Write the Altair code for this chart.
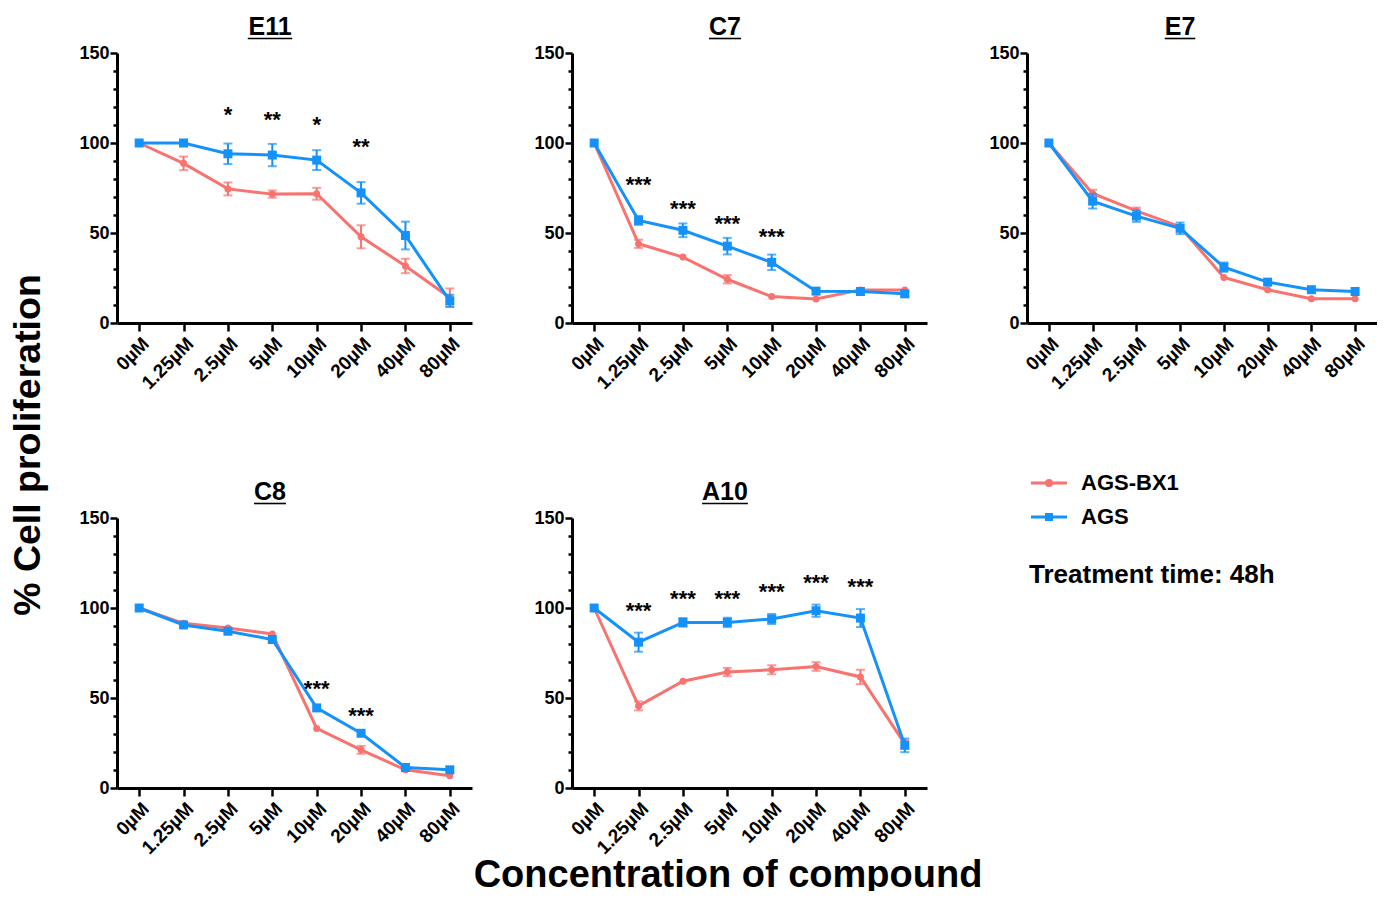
import altair as alt
import pandas as pd

FONT = "Liberation Sans"
CONC = ["0µM", "1.25µM", "2.5µM", "5µM", "10µM", "20µM", "40µM", "80µM"]
SERIES = ["AGS-BX1", "AGS"]
COLORS = ["#F8736F", "#1592FA"]
SHAPES = ["circle", "square"]
PANELS = ["E11", "C7", "E7", "C8", "A10"]

# mean values and SEM (0 = error bar hidden behind marker)
E11_BX1 = [100, 88.7, 74.5, 71.6, 71.8, 47.9, 31.7, 14.2]
E11_BX1_ERR = [0, 3.8, 3.6, 2.0, 3.3, 6.4, 4.0, 5.0]
E11_AGS = [100, 100, 94.0, 93.3, 90.5, 72.3, 48.6, 12.3]
E11_AGS_ERR = [0, 1.7, 5.7, 6.2, 5.5, 6.0, 7.7, 3.4]
E11_SIG = ["", "", "*", "**", "*", "**", "", ""]
E11_SIG_Y = [0, 0, 117.6, 115, 112, 100, 0, 0]

C7_BX1 = [100, 44, 36.6, 24.3, 14.7, 13.4, 18.4, 18.4]
C7_BX1_ERR = [0, 2.3, 0, 2.3, 0, 0, 0, 0]
C7_AGS = [100, 57, 51.5, 42.7, 33.7, 17.7, 17.5, 16.2]
C7_AGS_ERR = [0, 2.5, 3.8, 4.6, 4.3, 0, 0, 1.5]
C7_SIG = ["", "***", "***", "***", "***", "", "", ""]
C7_SIG_Y = [0, 79, 65.3, 57.4, 50.2, 0, 0, 0]

E7_BX1 = [100, 72, 62.3, 53.5, 25.3, 18.5, 13.5, 13.5]
E7_BX1_ERR = [0, 2.0, 1.8, 0, 0, 0, 0, 0]
E7_AGS = [100, 67.7, 59.4, 52.6, 31, 22.7, 18.5, 17.5]
E7_AGS_ERR = [0, 4.1, 3.2, 3.2, 2.6, 0, 0, 0]
E7_SIG = ["", "", "", "", "", "", "", ""]
E7_SIG_Y = [0, 0, 0, 0, 0, 0, 0, 0]

C8_BX1 = [100, 91.5, 88.9, 85.6, 33.1, 21.2, 10.1, 6.8]
C8_BX1_ERR = [0, 0, 0, 0, 0, 2.2, 0, 0]
C8_AGS = [100, 90.6, 87.1, 82.5, 44.5, 30.4, 11.4, 10.1]
C8_AGS_ERR = [0, 0, 0, 0, 0, 0, 0, 0]
C8_SIG = ["", "", "", "", "***", "***", "", ""]
C8_SIG_Y = [0, 0, 0, 0, 57.4, 42.3, 0, 0]

A10_BX1 = [100, 45.6, 59.3, 64.4, 65.7, 67.5, 61.7, 24.5]
A10_BX1_ERR = [0, 2.5, 0, 2.3, 2.5, 2.4, 4.0, 2.0]
A10_AGS = [100, 81, 92, 92, 93.9, 98.5, 94.4, 23.7]
A10_AGS_ERR = [0, 5.3, 2.4, 2.6, 2.8, 3.4, 5.0, 3.8]
A10_SIG = ["", "***", "***", "***", "***", "***", "***", ""]
A10_SIG_Y = [0, 100.3, 107.5, 107.5, 111.3, 115.9, 114, 0]

DATA = {
    "E11": (E11_BX1, E11_BX1_ERR, E11_AGS, E11_AGS_ERR, E11_SIG, E11_SIG_Y),
    "C7": (C7_BX1, C7_BX1_ERR, C7_AGS, C7_AGS_ERR, C7_SIG, C7_SIG_Y),
    "E7": (E7_BX1, E7_BX1_ERR, E7_AGS, E7_AGS_ERR, E7_SIG, E7_SIG_Y),
    "C8": (C8_BX1, C8_BX1_ERR, C8_AGS, C8_AGS_ERR, C8_SIG, C8_SIG_Y),
    "A10": (A10_BX1, A10_BX1_ERR, A10_AGS, A10_AGS_ERR, A10_SIG, A10_SIG_Y),
}

# approx. bold glyph widths (em) for the title underline
GLYPH_W = {"E": 0.667, "C": 0.722, "A": 0.722, "1": 0.556, "7": 0.556,
           "8": 0.556, "0": 0.556}

W, H = 355, 270
W_LAST = 350
TITLE_SIZE = 25

yscale = alt.Scale(domain=[0, 150], nice=False, zero=True)
yaxis = alt.Axis(
    values=list(range(0, 151, 10)),
    labelExpr="datum.value % 50 === 0 ? datum.label : ''",
    tickSize={"condition": {"test": "datum.value % 50 === 0", "value": 7}, "value": 4},
    title=None, grid=False, labelPadding=1, labelFontSize=18,
)
xscale = alt.Scale(type="point", padding=0.5)
xaxis = alt.Axis(title=None, labelAngle=-45, tickSize=8, labelPadding=3, grid=False,
                 labelFontSize=19)


def panel(name, width=W, extra=None):
    bx, bxe, ag, age, sig, sigy = DATA[name]
    rows = []
    for s, vals, errs in ((SERIES[0], bx, bxe), (SERIES[1], ag, age)):
        for c, v, e in zip(CONC, vals, errs):
            rows.append({"conc": c, "series": s, "value": v, "err": e,
                         "lo": v - e, "hi": v + e})
    df = pd.DataFrame(rows)
    x = alt.X("conc:O", sort=CONC, scale=xscale, axis=xaxis)
    layers = []
    for s, col, shp in zip(SERIES, COLORS, SHAPES):
        ds = df[df.series == s]
        de = ds[ds.err > 0]
        if len(de):
            eb = alt.Chart(de).encode(x=x)
            layers.append(eb.mark_rule(color=col, strokeWidth=2).encode(
                y=alt.Y("lo:Q", scale=yscale, axis=yaxis), y2="hi:Q"))
            layers.append(eb.mark_tick(color=col, size=9, thickness=2).encode(
                y=alt.Y("lo:Q", scale=yscale, axis=yaxis)))
            layers.append(eb.mark_tick(color=col, size=9, thickness=2).encode(
                y=alt.Y("hi:Q", scale=yscale, axis=yaxis)))
        base = alt.Chart(ds).encode(x=x, y=alt.Y("value:Q", scale=yscale, axis=yaxis))
        layers.append(base.mark_line(color=col, strokeWidth=3))
        layers.append(base.mark_point(shape=shp, filled=True, opacity=1, color=col,
                                      size=49 if shp == "circle" else 81))
    sdf = pd.DataFrame({"conc": CONC, "sig": sig, "y": sigy})
    sdf = sdf[sdf.sig != ""]
    if len(sdf):
        layers.append(alt.Chart(sdf).mark_text(
            font=FONT, fontWeight="bold", fontSize=22, baseline="middle", dy=4,
            color="black").encode(
            x=x, y=alt.Y("y:Q", scale=yscale, axis=yaxis), text="sig:N"))
    # underlined panel title
    tdf = pd.DataFrame({"t": [name]})
    tw = TITLE_SIZE * sum(GLYPH_W.get(ch, 0.6) for ch in name)
    cx = 153
    layers.append(alt.Chart(tdf).mark_text(
        font=FONT, fontWeight="bold", fontSize=TITLE_SIZE, baseline="alphabetic",
        align="center", color="black").encode(
        text="t:N", x=alt.value(cx), y=alt.value(-18)))
    layers.append(alt.Chart(tdf).mark_rule(color="black", strokeWidth=1.6).encode(
        x=alt.value(cx - tw / 2), x2=alt.value(cx + tw / 2), y=alt.value(-14.5)))
    if extra is not None:
        layers.extend(extra)
    return alt.layer(*layers).properties(width=width, height=H)


one = pd.DataFrame({"t": [0]})
ytitle = alt.Chart(one).mark_text(
    text="% Cell proliferation", font=FONT, fontWeight="bold", fontSize=37.5,
    angle=270, align="center", baseline="middle", color="black").encode(
    x=alt.value(-88), y=alt.value(392))
xtitle = alt.Chart(one).mark_text(
    text="Concentration of compound", font=FONT, fontWeight="bold", fontSize=38,
    align="center", baseline="alphabetic", color="black").encode(
    x=alt.value(156), y=alt.value(369))

# legend cell
leg = pd.DataFrame({"series": SERIES})
ly = alt.Y("series:N", sort=SERIES, scale=alt.Scale(type="point", range=[-35, -1], padding=0), axis=None)
lcolor = alt.Color("series:N", scale=alt.Scale(domain=SERIES, range=COLORS), legend=None)
lshape = alt.Shape("series:N", scale=alt.Scale(domain=SERIES, range=SHAPES), legend=None)
legend_cell = alt.layer(
    alt.Chart(leg).mark_rule(strokeWidth=3).encode(
        y=ly, x=alt.value(4), x2=alt.value(40), color=lcolor),
    alt.Chart(leg).mark_point(filled=True, opacity=1, size=64).encode(
        y=ly, x=alt.value(22), color=lcolor, shape=lshape),
    alt.Chart(leg).mark_text(font=FONT, fontWeight="bold", fontSize=22, align="left",
                             baseline="middle", color="black").encode(
        y=ly, x=alt.value(54), text="series:N"),
    alt.Chart(one).mark_text(text="Treatment time: 48h", font=FONT, fontWeight="bold",
                             fontSize=26, align="left", baseline="middle",
                             color="black").encode(x=alt.value(2), y=alt.value(57)),
).properties(width=W_LAST, height=H)

charts = [
    panel("E11", extra=[ytitle]),
    panel("C7"),
    panel("E7", width=W_LAST),
    panel("C8"),
    panel("A10", extra=[xtitle]),
    legend_cell,
]

chart = alt.concat(*charts, columns=3, spacing={"row": 195, "column": 100}).properties(
    bounds="flush",
    background="white",
    padding={"left": 2, "top": 7, "right": 0, "bottom": -4},
).configure_view(stroke=None).configure_axis(
    labelFont=FONT, labelFontWeight="bold", labelColor="black",
    domainColor="black", domainWidth=3, tickColor="black", tickWidth=2.5,
)

chart.save("out.html", embed_options={"renderer": "svg", "actions": False})
